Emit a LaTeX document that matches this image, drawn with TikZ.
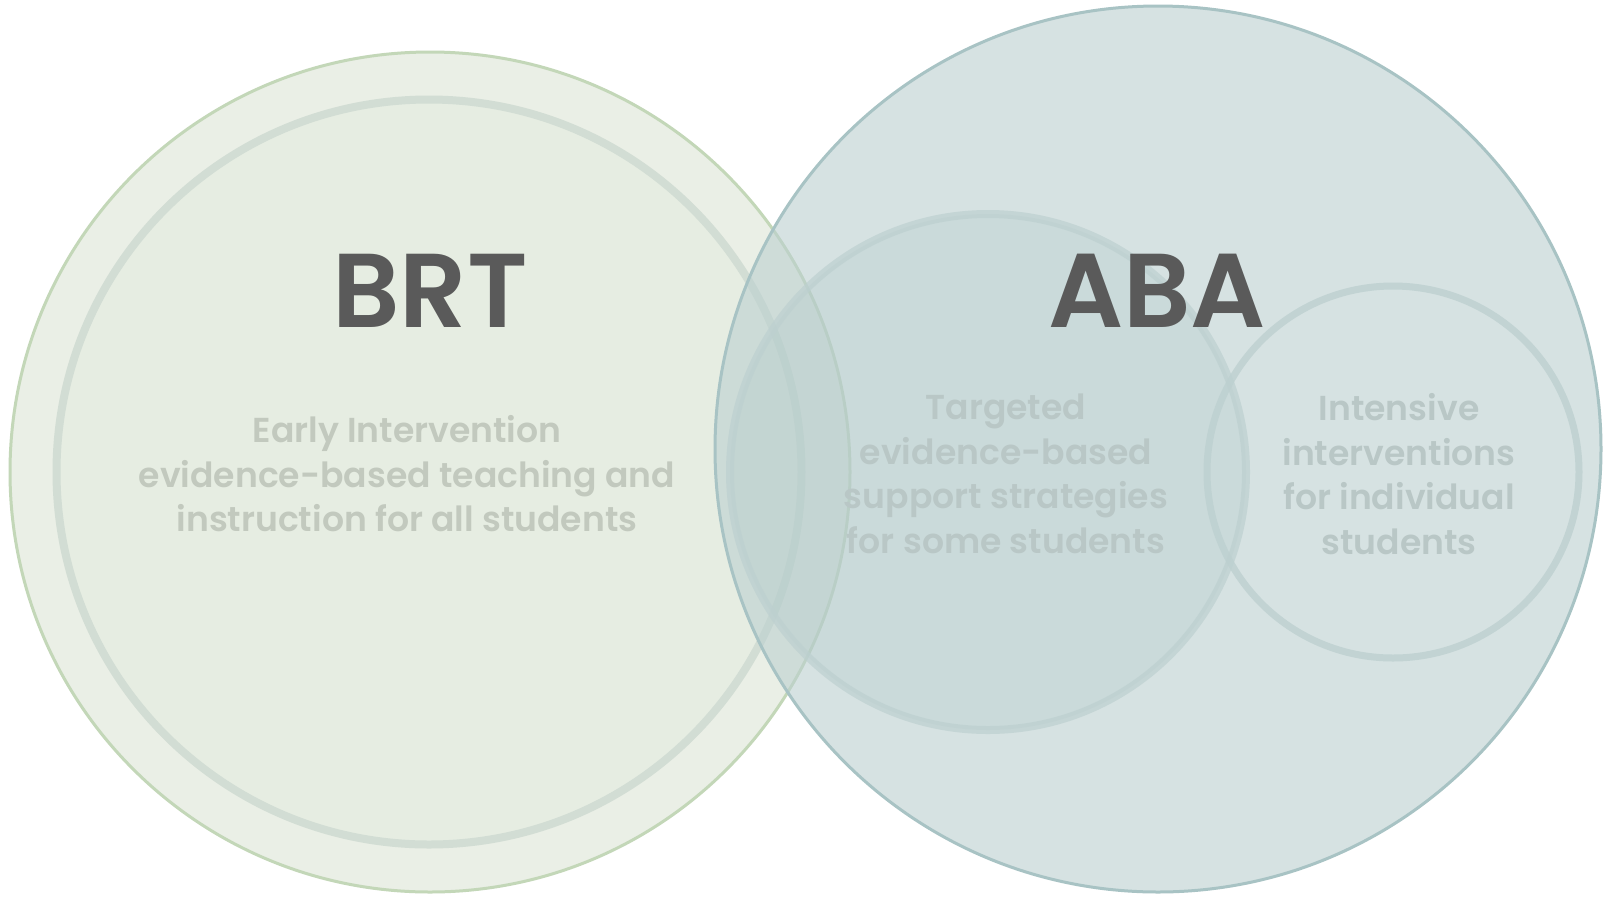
\documentclass[tikz,border=0pt]{standalone}
\usepackage{fontspec}
\setmainfont{Poppins}
\newfontfamily\titlefont{Poppins SemiBold}
\usetikzlibrary{positioning}
\definecolor{brtfill}{HTML}{EAEFE6}
\definecolor{brtedge}{HTML}{C3D7B8}
\definecolor{corefill}{HTML}{E6EDE2}
\definecolor{coreedge}{HTML}{D2DDD4}
\definecolor{abafill}{HTML}{BCD0D0}
\definecolor{abaedge}{HTML}{A8C3C4}
\definecolor{tierfill}{HTML}{B0C8C8}
\definecolor{tieredge}{HTML}{BDD0D0}
\definecolor{titletext}{HTML}{5A5A5A}
\definecolor{brttext}{HTML}{C2C9BE}
\definecolor{abatext}{HTML}{B9C7C6}
\tikzset{
	x=1pt, y=-1pt,
	ring/.style={circle, inner sep=0pt, outer sep=0pt},
	brtouter/.style={ring, minimum size=840pt, fill=brtfill, draw=brtedge, line width=3pt},
	brtinner/.style={ring, minimum size=745pt, fill=corefill, draw=coreedge, line width=8pt},
	abaouter/.style={ring, minimum size=886pt, fill=abafill, fill opacity=0.6, draw=abaedge, draw opacity=1, line width=3pt},
	tiermid/.style={ring, minimum size=516pt, fill=tierfill, fill opacity=0.3, draw=tieredge, draw opacity=0.7, line width=8pt},
	tiersmall/.style={ring, minimum size=372pt, draw=tieredge, draw opacity=0.8, line width=7pt},
	title/.style={font=\titlefont\fontsize{105}{110}\selectfont, text=titletext},
	tierlabel/.style={align=center, font=\titlefont\fontsize{34.6}{44.5}\selectfont}}

\begin{document}
\begin{tikzpicture}
	\useasboundingbox[fill=white] (0,0) rectangle (1620,898);

	\node[brtouter] (brt) at (430,472) {};
	\node[brtinner] (core) at (429,472) {};
	\node[abaouter] (aba) at (1158,449) {};
	\node[tiermid] (targeted) at (988,472) {};
	\node[tiersmall] (intensive) at (1393,472) {};

	\node[title] (brtname) at (430,291) {BRT};
	\node[title] (abaname) at (1157,291) {ABA};

	\node[tierlabel, text=brttext] (universal) at (407,474) {Early Intervention\\evidence-based teaching and\\instruction for all students};
	\node[tierlabel, text=abatext] (targetedtext) at (1006,474) {Targeted\\evidence-based\\support strategies\\for some students};
	\node[tierlabel, text=abatext] (intensivetext) at (1399,474) {Intensive\\interventions\\for individual\\students};
\end{tikzpicture}
\end{document}
